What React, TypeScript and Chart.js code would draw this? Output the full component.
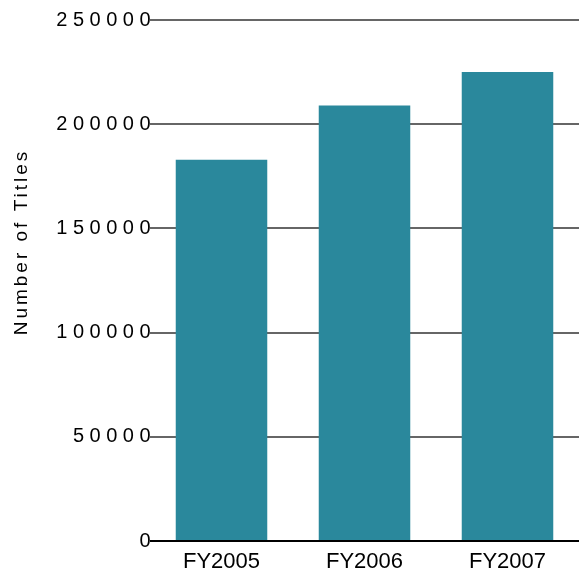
import React, { useEffect, useRef } from 'react';
import { Chart, registerables } from 'chart.js';

Chart.register(...registerables);

const categories = ['FY2005', 'FY2006', 'FY2007'];
const titleCounts = [183000, 209000, 225000];
const yMin = 0;
const yMax = 250000;
const yStep = 50000;
const yAxisTitle = 'Number of Titles';

const FONT = '"Liberation Sans", Arial, Helvetica, sans-serif';

export default function App() {
  const ref = useRef<HTMLCanvasElement>(null);

  useEffect(() => {
    if (!ref.current) return;

    const spacedAxis = {
      id: 'spacedAxis',
      afterLayout(chart: any) {
        const y = chart.scales.y;
        if (y && !y.__spaced) {
          const orig = y.drawLabels;
          y.drawLabels = function (area: any) {
            const c = chart.ctx as any;
            c.save();
            c.letterSpacing = '5.5px';
            orig.call(this, area);
            c.restore();
          };
          y.__spaced = true;
        }
      },
      afterDraw(chart: any) {
        const c = chart.ctx as any;
        c.save();
        c.letterSpacing = '3px';
        c.font = `19px ${FONT}`;
        c.fillStyle = '#000';
        c.textAlign = 'center';
        c.textBaseline = 'middle';
        c.translate(22, 242);
        c.rotate(-Math.PI / 2);
        c.fillText(yAxisTitle, 0, 0);
        c.restore();
      },
    };

    const chart = new Chart(ref.current, {
      type: 'bar',
      data: {
        labels: categories,
        datasets: [
          {
            label: yAxisTitle,
            data: titleCounts,
            backgroundColor: '#2a889c',
            borderWidth: 0,
            barPercentage: 0.64,
            categoryPercentage: 1,
          },
        ],
      },
      options: {
        animation: false,
        responsive: true,
        maintainAspectRatio: false,
        layout: { padding: { top: 20, left: 0, right: 0, bottom: 0 } },
        plugins: {
          legend: { display: false },
          tooltip: { enabled: false },
          title: { display: false },
        },
        scales: {
          x: {
            grid: { display: false, drawTicks: false },
            border: { display: false },
            ticks: {
              color: '#000',
              font: { family: FONT, size: 22 },
              padding: 8,
              maxRotation: 0,
            },
            afterFit(scale: any) {
              scale.height = 30;
            },
          },
          y: {
            min: yMin,
            max: yMax,
            grid: {
              drawTicks: false,
              lineWidth: 2,
              color: (ctx: any) => (ctx.tick && ctx.tick.value === 0 ? '#000' : '#666'),
            },
            border: { display: false },
            ticks: {
              stepSize: yStep,
              color: '#000',
              font: { family: FONT, size: 20 },
              padding: -6,
              callback: (v: any) => String(v),
            },
            afterFit(scale: any) {
              scale.width = 150;
            },
          },
        },
      },
      plugins: [spacedAxis],
    });

    return () => chart.destroy();
  }, []);

  return (
    <div style={{ position: 'absolute', left: 0, top: 0, width: 579, height: 571 }}>
      <canvas ref={ref} />
    </div>
  );
}
